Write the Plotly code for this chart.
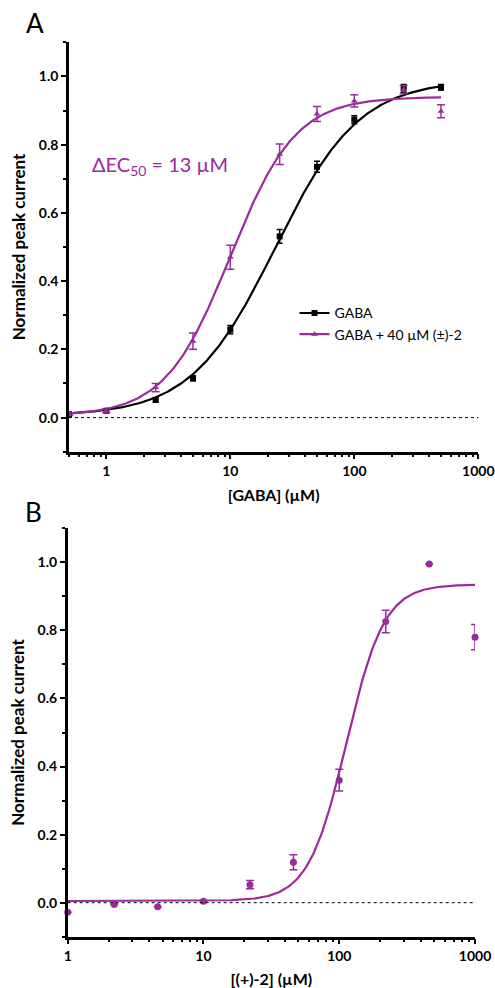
import numpy as np
import plotly.graph_objects as go

# ---------------- data ----------------
# Panel A: GABA concentration-response
gaba_conc = [0.5, 1, 2.5, 5, 10, 25, 50, 100, 250, 500]
gaba_resp = [0.010, 0.020, 0.052, 0.115, 0.258, 0.531, 0.735, 0.873, 0.964, 0.968]
gaba_err = [0.004, 0.005, 0.006, 0.007, 0.012, 0.020, 0.016, 0.012, 0.012, 0.008]

mod_resp = [0.010, 0.020, 0.088, 0.224, 0.470, 0.772, 0.890, 0.928, 0.961, 0.898]
mod_err = [0.004, 0.005, 0.012, 0.024, 0.035, 0.030, 0.022, 0.018, 0.012, 0.019]

# Hill fit parameters (bottom, top, EC50, Hill slope)
gaba_fit = dict(bottom=0.005, top=0.99, ec50=23.0, n=1.28)
mod_fit = dict(bottom=0.005, top=0.94, ec50=10.0, n=1.65)

# Panel B: (+)-2 concentration-response
cmpd_conc = [1, 2.2, 4.6, 10, 22, 46, 100, 220, 460, 1000]
cmpd_resp = [-0.028, -0.005, -0.012, 0.004, 0.053, 0.119, 0.360, 0.826, 0.995, 0.780]
cmpd_err = [0.0, 0.0, 0.0, 0.0, 0.012, 0.022, 0.032, 0.033, 0.0, 0.037]
cmpd_fit = dict(bottom=0.005, top=0.935, ec50=113.0, n=3.1)

x_ticks = [1, 10, 100, 1000]
x_ticktext = ["1", "10", "100", "1000"]
y_ticks = [0.0, 0.2, 0.4, 0.6, 0.8, 1.0]
y_ticktext = ["0.0", "0.2", "0.4", "0.6", "0.8", "1.0"]

PURPLE = "#9B2A9C"
BLACK = "#000000"
FONT = "Lato"


def hill(x, p):
    x = np.asarray(x, dtype=float)
    r = (x / p["ec50"]) ** p["n"]
    return p["bottom"] + (p["top"] - p["bottom"]) * r / (1 + r)


xa = np.logspace(np.log10(gaba_conc[0]), np.log10(gaba_conc[-1]), 300)
xb = np.logspace(np.log10(cmpd_conc[0]), np.log10(cmpd_conc[-1]), 300)

fig = go.Figure()

# ---- Panel A ----
fig.add_trace(go.Scatter(x=xa, y=hill(xa, gaba_fit), mode="lines",
                         line=dict(color=BLACK, width=2.2), showlegend=False,
                         cliponaxis=False, xaxis="x", yaxis="y"))
fig.add_trace(go.Scatter(x=xa, y=hill(xa, mod_fit), mode="lines",
                         line=dict(color=PURPLE, width=2.2), showlegend=False,
                         cliponaxis=False, xaxis="x", yaxis="y"))
fig.add_trace(go.Scatter(x=gaba_conc, y=gaba_resp, mode="markers",
                         marker=dict(symbol="square", size=6, color=BLACK),
                         error_y=dict(type="data", array=gaba_err, color=BLACK,
                                      thickness=1.5, width=3),
                         cliponaxis=False, showlegend=False, xaxis="x", yaxis="y"))
fig.add_trace(go.Scatter(x=gaba_conc, y=mod_resp, mode="markers",
                         marker=dict(symbol="triangle-up", size=6, color=PURPLE),
                         error_y=dict(type="data", array=mod_err, color=PURPLE,
                                      thickness=1.5, width=4),
                         cliponaxis=False, showlegend=False, xaxis="x", yaxis="y"))
# legend entries
fig.add_trace(go.Scatter(x=[None], y=[None], mode="lines+markers", name="GABA",
                         marker=dict(symbol="square", size=6, color=BLACK),
                         line=dict(color=BLACK, width=2.2), xaxis="x", yaxis="y"))
fig.add_trace(go.Scatter(x=[None], y=[None], mode="lines+markers",
                         name="GABA + 40 µM (±)-2",
                         marker=dict(symbol="triangle-up", size=6, color=PURPLE),
                         line=dict(color=PURPLE, width=2.2), xaxis="x", yaxis="y"))

# ---- Panel B ----
fig.add_trace(go.Scatter(x=xb, y=hill(xb, cmpd_fit), mode="lines",
                         line=dict(color=PURPLE, width=2.2), showlegend=False,
                         cliponaxis=False, xaxis="x2", yaxis="y2"))
fig.add_trace(go.Scatter(x=cmpd_conc, y=cmpd_resp, mode="markers",
                         marker=dict(symbol="circle", size=7, color=PURPLE),
                         error_y=dict(type="data", array=cmpd_err, color=PURPLE,
                                      thickness=1.5, width=4),
                         cliponaxis=False, showlegend=False, xaxis="x2", yaxis="y2"))

minor_x = [v * m for v in [0.1, 1, 10, 100] for m in range(2, 10)]
minor_y = [-0.1, 0.1, 0.3, 0.5, 0.7, 0.9, 1.1]

axis_common = dict(showline=True, linecolor=BLACK, linewidth=2.5, mirror=False,
                   showgrid=False, zeroline=False, ticks="outside", ticklen=5,
                   tickwidth=2, tickcolor=BLACK, automargin=False,
                   tickfont=dict(family=FONT, size=14, color=BLACK, weight="bold"))

xaxis_common = dict(axis_common, type="log", tickmode="array", tickvals=x_ticks,
                    ticktext=x_ticktext,
                    minor=dict(tickmode="array", tickvals=minor_x, ticks="outside",
                               ticklen=3, tickwidth=1.5, tickcolor=BLACK,
                               showgrid=False))
yaxis_common = dict(axis_common, tickmode="array", tickvals=y_ticks,
                    ticktext=y_ticktext, range=[-0.1, 1.1],
                    minor=dict(tickmode="array", tickvals=minor_y, ticks="outside",
                               ticklen=3, tickwidth=1.5, tickcolor=BLACK,
                               showgrid=False))

xtitle_font = dict(family=FONT, size=16, color=BLACK, weight="bold")
ytitle_font = dict(family=FONT, size=17, color=BLACK, weight="bold")

fig.update_layout(
    width=495, height=988,
    margin=dict(l=0, r=0, t=0, b=0),
    paper_bgcolor="white", plot_bgcolor="white",
    xaxis=dict(xaxis_common, domain=[0.1394, 0.9663],
               range=[np.log10(0.5), 3], anchor="y",
               title=dict(text="[GABA] (µM)", font=xtitle_font, standoff=12)),
    yaxis=dict(yaxis_common, domain=[0.5428, 0.9572], anchor="x",
               title=dict(text="Normalized peak current", font=ytitle_font,
                          standoff=9)),
    xaxis2=dict(xaxis_common, domain=[0.1368, 0.9596], range=[0, 3],
                anchor="y2",
                title=dict(text="[(+)-2] (µM)", font=xtitle_font, standoff=12)),
    yaxis2=dict(yaxis_common, domain=[0.0519, 0.4653], anchor="x2",
                title=dict(text="Normalized peak current", font=ytitle_font,
                           standoff=9)),
    legend=dict(x=0.595, y=0.699, xanchor="left", yanchor="top",
                bgcolor="rgba(0,0,0,0)",
                font=dict(family=FONT, size=14, color=BLACK),
                itemwidth=30, tracegroupgap=0),
    showlegend=True,
    shapes=[
        dict(type="line", xref="x domain", yref="y", x0=0, x1=1, y0=0, y1=0,
             line=dict(color=BLACK, width=1, dash="dot")),
        dict(type="line", xref="x2 domain", yref="y2", x0=0, x1=1, y0=0, y1=0,
             line=dict(color=BLACK, width=1, dash="dot")),
    ],
    annotations=[
        dict(text="A", x=35 / 495, y=1 - 23 / 988, xref="paper", yref="paper",
             xanchor="center", yanchor="middle",
             showarrow=False, font=dict(family=FONT, size=26, color=BLACK)),
        dict(text="B", x=33 / 495, y=1 - 512 / 988, xref="paper", yref="paper",
             xanchor="center", yanchor="middle",
             showarrow=False, font=dict(family=FONT, size=26, color=BLACK)),
        dict(text="ΔEC<sub>50</sub> = 13 µM", x=90 / 495, y=1 - 166 / 988,
             xref="paper", yref="paper", xanchor="left", yanchor="middle",
             showarrow=False, font=dict(family=FONT, size=20, color=PURPLE)),
    ],
)

fig.write_html("out.html", config={"displayModeBar": False},
               post_script="document.body.style.margin='0';document.body.style.overflow='hidden';")
